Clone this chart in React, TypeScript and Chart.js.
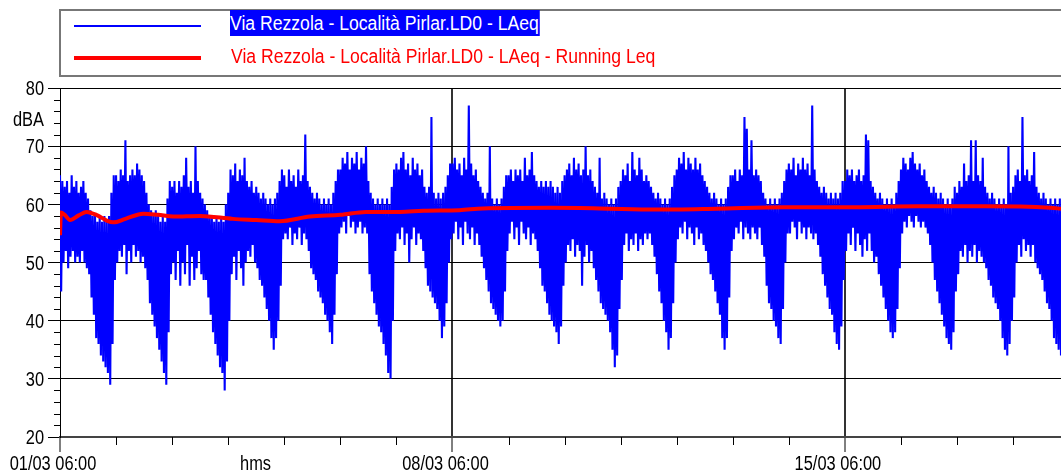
import React, { useEffect, useRef } from "react";
import { Chart, registerables } from "chart.js";

Chart.register(...registerables);

const FONT = '"Liberation Sans", Arial, sans-serif';
const TICK_SQUEEZE = 0.82;
const LEGEND_SQUEEZE = 0.88;

const seriesName = "Via Rezzola - Località Pirlar.LD0 - LAeq";
const runningName = "Via Rezzola - Località Pirlar.LD0 - LAeq - Running Leq";

// LAeq, hours counted from 01/03 06:00. Upper value read at hh:00, lower value read at hh:30.
const laeqHigh = [
  65, 64, 63, 64, 62, 65, 63, 64, 62, 63, 64, 62, 61, 59, 58, 58, 57, 58, 57, 58, 57, 58, 62, 65,
  65, 64, 66, 65, 71, 64, 65, 66, 65, 67, 66, 65, 64, 62, 60, 59, 58, 59, 58, 57, 58, 57, 61, 64,
  63, 64, 62, 64, 63, 65, 68, 63, 64, 62, 70, 64, 62, 61, 60, 59, 58, 58, 57, 58, 57, 58, 57, 60,
  62, 66, 65, 67, 64, 66, 65, 68, 64, 63, 64, 62, 63, 62, 61, 62, 61, 60, 61, 60, 61, 62, 64, 66,
  65, 63, 66, 64, 65, 63, 66, 64, 65, 72, 64, 63, 62, 61, 62, 61, 60, 61, 60, 61, 60, 62, 64, 66,
  66, 68, 67, 69, 66, 68, 67, 69, 66, 68, 67, 70, 64, 62, 61, 60, 61, 60, 61, 60, 61, 60, 63, 66,
  67, 66, 68, 69, 66, 67, 65, 68, 66, 67, 65, 66, 63, 62, 63, 75, 62, 61, 62, 61, 62, 63, 65, 67,
  67, 68, 66, 67, 65, 68, 66, 77, 67, 65, 66, 64, 63, 62, 61, 62, 70, 61, 60, 61, 60, 61, 63, 65,
  65, 66, 64, 66, 65, 66, 64, 68, 65, 66, 69, 65, 64, 63, 64, 63, 64, 63, 64, 63, 62, 63, 62, 64,
  65, 66, 67, 65, 68, 66, 67, 65, 66, 70, 65, 66, 64, 63, 62, 68, 61, 62, 61, 60, 61, 60, 61, 63,
  64, 66, 65, 67, 64, 69, 66, 65, 68, 66, 64, 65, 64, 63, 62, 61, 62, 61, 60, 61, 60, 61, 63, 65,
  66, 68, 67, 69, 66, 68, 67, 66, 68, 66, 67, 65, 64, 63, 62, 61, 62, 61, 60, 61, 60, 61, 63, 65,
  65, 66, 64, 66, 65, 75, 73, 66, 71, 65, 66, 65, 64, 62, 61, 60, 61, 60, 61, 60, 61, 62, 64, 66,
  67, 66, 68, 65, 67, 66, 68, 66, 67, 65, 77, 66, 64, 63, 62, 63, 62, 61, 62, 61, 62, 61, 62, 64,
  64, 66, 65, 66, 64, 65, 66, 64, 65, 72, 71, 64, 63, 62, 61, 62, 61, 60, 61, 60, 61, 60, 62, 64,
  66, 68, 67, 66, 68, 69, 67, 66, 67, 65, 66, 64, 63, 62, 63, 62, 61, 62, 61, 60, 61, 60, 61, 63,
  62, 64, 63, 67, 64, 65, 71, 64, 71, 65, 64, 68, 63, 62, 61, 62, 61, 60, 61, 60, 61, 60, 70, 62,
  63, 65, 66, 64, 75, 65, 66, 64, 65, 69, 63, 62, 61, 62, 61, 60, 61, 60, 61, 60, 61,
];

const laeqLow = [
  45, 50, 52, 49, 51, 52, 50, 51, 50, 52, 50, 49, 48, 44, 41, 37, 36, 34, 33, 32, 31, 29, 36, 47,
  50, 52, 51, 53, 48, 52, 50, 53, 51, 52, 50, 51, 49, 47, 43, 41, 39, 37, 35, 33, 31, 29, 38, 48,
  50, 47, 52, 46, 50, 48, 53, 46, 51, 47, 49, 52, 48, 47, 47, 44, 41, 38, 36, 34, 32, 31, 28, 33,
  40, 48, 51, 47, 52, 49, 46, 50, 52, 51, 53, 50, 49, 47, 46, 44, 42, 40, 37, 35, 37, 40, 46, 54,
  55, 54, 56, 53, 55, 54, 56, 53, 55, 54, 52, 49, 48, 47, 45, 44, 43, 41, 40, 38, 36, 41, 48, 55,
  56, 57, 55, 58, 56, 57, 55, 56, 57, 55, 56, 55, 48, 45, 43, 41, 39, 38, 36, 34, 31, 30, 40, 52,
  55, 54, 56, 53, 55, 50, 54, 56, 53, 55, 54, 52, 49, 46, 45, 44, 43, 42, 40, 37, 39, 43, 50, 54,
  55, 57, 54, 56, 53, 57, 55, 54, 56, 53, 55, 53, 51, 49, 47, 45, 43, 42, 41, 40, 39, 40, 45, 52,
  55, 57, 54, 56, 53, 57, 55, 54, 56, 53, 55, 54, 52, 49, 46, 45, 43, 41, 40, 39, 38, 36, 39, 46,
  50, 53, 52, 54, 51, 53, 52, 46, 51, 53, 50, 52, 49, 47, 45, 43, 42, 41, 40, 38, 35, 32, 34, 42,
  47, 53, 55, 52, 54, 53, 55, 52, 54, 53, 55, 54, 55, 53, 51, 48, 45, 43, 40, 38, 35, 37, 43, 50,
  54, 56, 55, 57, 54, 56, 55, 53, 56, 54, 55, 53, 52, 50, 48, 47, 45, 43, 41, 37, 35, 37, 44, 52,
  54, 56, 55, 57, 54, 56, 55, 54, 56, 55, 54, 56, 53, 51, 46, 43, 42, 40, 39, 37, 36, 42, 50, 55,
  55, 57, 56, 54, 57, 55, 56, 54, 56, 55, 54, 55, 53, 51, 48, 46, 44, 42, 41, 38, 36, 35, 39, 47,
  52, 55, 53, 56, 52, 55, 53, 51, 54, 52, 55, 52, 50, 51, 48, 46, 44, 42, 40, 38, 37, 38, 42, 49,
  55, 57, 56, 58, 57, 56, 58, 57, 56, 57, 56, 55, 53, 50, 47, 45, 43, 41, 39, 37, 36, 35, 38, 45,
  48, 52, 51, 53, 50, 52, 51, 53, 50, 52, 51, 50, 49, 47, 46, 44, 43, 42, 40, 37, 35, 34, 36, 40,
  44, 50, 53, 51, 54, 52, 53, 51, 53, 50, 49, 48, 47, 45, 43, 42, 40, 37, 36, 35, 34,
];

// Running Leq, hours from 01/03 06:00 and dBA
const runningHours = [
  0, 0.4, 2, 4.3, 8, 11.4, 16, 20, 22.8, 28, 35.7, 42, 48.5, 60, 74, 84, 94, 107, 120, 131,
  145.5, 155.5, 171, 181, 210, 231, 255, 281, 309.6, 340, 367, 396, 424, 428.5,
];
const runningLeq = [
  54.7, 58.6, 58.2, 57.3, 58.1, 58.7, 58.1, 57.2, 56.9, 57.5, 58.4, 58.2, 57.9, 58.0, 57.5, 57.3,
  57.1, 57.9, 58.2, 58.7, 58.7, 58.9, 59.0, 59.3, 59.4, 59.3, 59.1, 59.25, 59.5, 59.5, 59.65,
  59.65, 59.4, 59.25,
];

const yMin = 20;
const yMax = 80;
const yTickValues = [20, 22, 24, 26, 28, 30, 32, 34, 36, 38, 40, 42, 44, 46, 48, 50, 52, 54, 56, 58, 60, 62, 64, 66, 68, 70, 72, 74, 76, 78, 80];
const yLabelValues = [20, 30, 40, 50, 60, 70, 80];
const xMaxHours = 428.5;
const dayTickHours = [0, 24, 48, 72, 96, 120, 144, 168, 192, 216, 240, 264, 288, 312, 336, 360, 384, 408];
const labelledTickHours = [0, 168, 336];
const labelledTickText = ["01/03 06:00", "08/03 06:00", "15/03 06:00"];
const xAxisTitle = "hms";
const xAxisTitleHour = 83.7;
const yAxisTitle = "dBA";
const yAxisTitleLevel = 73.4;

function squeezedText(ctx: CanvasRenderingContext2D, text: string, x: number, y: number, align: CanvasTextAlign, sx: number) {
  ctx.save();
  ctx.translate(x, y);
  ctx.scale(sx, 1);
  ctx.textAlign = align;
  ctx.textBaseline = "alphabetic";
  ctx.fillText(text, 0, 0);
  ctx.restore();
}

const extrasPlugin = {
  id: "extras",
  afterDraw(chart: any) {
    const { ctx, chartArea, scales } = chart;
    const x = scales.x;
    const y = scales.y;
    ctx.save();
    ctx.strokeStyle = "#000";
    ctx.lineWidth = 1;
    ctx.beginPath();
    for (const v of yTickValues) {
      if (yLabelValues.includes(v)) continue;
      const py = Math.round(y.getPixelForValue(v)) + 0.5;
      ctx.moveTo(chartArea.left - 6, py);
      ctx.lineTo(chartArea.left, py);
    }
    for (const h of dayTickHours) {
      if (labelledTickHours.includes(h)) continue;
      const px = Math.round(x.getPixelForValue(h)) + 0.5;
      ctx.moveTo(px, chartArea.bottom);
      ctx.lineTo(px, chartArea.bottom + 8);
    }
    ctx.stroke();

    ctx.fillStyle = "#000";
    ctx.font = `20px ${FONT}`;
    for (const v of yLabelValues) {
      squeezedText(ctx, String(v), chartArea.left - 16, y.getPixelForValue(v) + 7.2, "right", TICK_SQUEEZE);
    }
    labelledTickHours.forEach((h, i) => {
      squeezedText(ctx, labelledTickText[i], x.getPixelForValue(h) - 7, chartArea.bottom + 33, "center", TICK_SQUEEZE);
    });
    squeezedText(ctx, yAxisTitle, chartArea.left - 16, y.getPixelForValue(yAxisTitleLevel), "right", TICK_SQUEEZE);
    squeezedText(ctx, xAxisTitle, x.getPixelForValue(xAxisTitleHour), chartArea.bottom + 33, "center", TICK_SQUEEZE);
    ctx.restore();
  },
};

export default function App() {
  const canvasRef = useRef<HTMLCanvasElement | null>(null);

  useEffect(() => {
    const canvas = canvasRef.current;
    if (!canvas) return;
    const blue: { x: number; y: number }[] = [];
    for (let i = 0; i < laeqHigh.length; i++) {
      blue.push({ x: i, y: laeqHigh[i] });
      blue.push({ x: i + 0.5, y: laeqLow[i] });
    }
    const red = runningHours.map((h, i) => ({ x: h, y: runningLeq[i] }));

    const chart = new Chart(canvas, {
      type: "line",
      data: {
        datasets: [
          {
            label: runningName,
            data: red,
            borderColor: "#ff0000",
            borderWidth: 4,
            pointRadius: 0,
            cubicInterpolationMode: "monotone",
            order: 0,
          },
          {
            label: seriesName,
            data: blue,
            borderColor: "#0000ff",
            borderWidth: 2.1,
            pointRadius: 0,
            tension: 0,
            order: 1,
          },
        ],
      },
      options: {
        animation: false,
        responsive: false,
        maintainAspectRatio: false,
        layout: { padding: { top: 88, left: 0, right: 0, bottom: 0 } },
        plugins: { legend: { display: false }, tooltip: { enabled: false } },
        scales: {
          x: {
            type: "linear",
            min: 0,
            max: xMaxHours,
            afterBuildTicks: (scale: any) => {
              scale.ticks = dayTickHours.map((v) => ({ value: v }));
            },
            afterFit: (scale: any) => {
              scale.height = 38;
            },
            ticks: { display: false, autoSkip: false, maxRotation: 0 },
            grid: {
              color: (c: any) =>
                c.tick && labelledTickHours.includes(c.tick.value) && c.tick.value !== 0 ? "#333" : "rgba(0,0,0,0)",
              lineWidth: 2,
              tickColor: (c: any) =>
                c.tick && labelledTickHours.includes(c.tick.value) ? "#000" : "rgba(0,0,0,0)",
              tickWidth: 1,
              tickLength: 15,
            },
            border: { display: true, color: "#444", width: 2 },
          },
          y: {
            type: "linear",
            min: yMin,
            max: yMax,
            afterBuildTicks: (scale: any) => {
              scale.ticks = yTickValues.map((v) => ({ value: v }));
            },
            afterFit: (scale: any) => {
              scale.width = 60;
            },
            ticks: { display: false, autoSkip: false },
            grid: {
              color: (c: any) => (c.tick && yLabelValues.includes(c.tick.value) ? "#000" : "rgba(0,0,0,0)"),
              lineWidth: 1,
              tickColor: (c: any) => (c.tick && yLabelValues.includes(c.tick.value) ? "#000" : "rgba(0,0,0,0)"),
              tickLength: 12,
            },
            border: { display: true, color: "#000", width: 1 },
          },
        },
      },
      plugins: [extrasPlugin],
    } as any);
    return () => chart.destroy();
  }, []);

  const textStyle: React.CSSProperties = {
    position: "absolute",
    fontFamily: FONT,
    fontSize: 20,
    lineHeight: "26px",
    whiteSpace: "nowrap",
    transform: `scaleX(${LEGEND_SQUEEZE})`,
    transformOrigin: "0 0",
  };

  return (
    <div style={{ position: "fixed", left: 0, top: 0, width: 1061, height: 475, background: "#fff", overflow: "hidden" }}>
      <canvas ref={canvasRef} width={1061} height={475} style={{ position: "absolute", left: 0, top: 0, width: 1061, height: 475 }} />
      <div
        style={{
          position: "absolute",
          left: 59,
          top: 9,
          width: 1010,
          height: 68,
          boxSizing: "border-box",
          borderTop: "2px solid #777",
          borderBottom: "2px solid #777",
          borderLeft: "2px solid #777",
        }}
      />
      <div style={{ position: "absolute", left: 74, top: 25, width: 127, height: 1.5, background: "#0000ff" }} />
      <div style={{ position: "absolute", left: 74, top: 56, width: 127, height: 4, background: "#ff0000" }} />
      <span style={{ ...textStyle, left: 230, top: 10, background: "#0000ff", color: "#fff", paddingRight: 1 }}>{seriesName}</span>
      <span style={{ ...textStyle, left: 231, top: 43, color: "#ff0000" }}>{runningName}</span>
    </div>
  );
}
